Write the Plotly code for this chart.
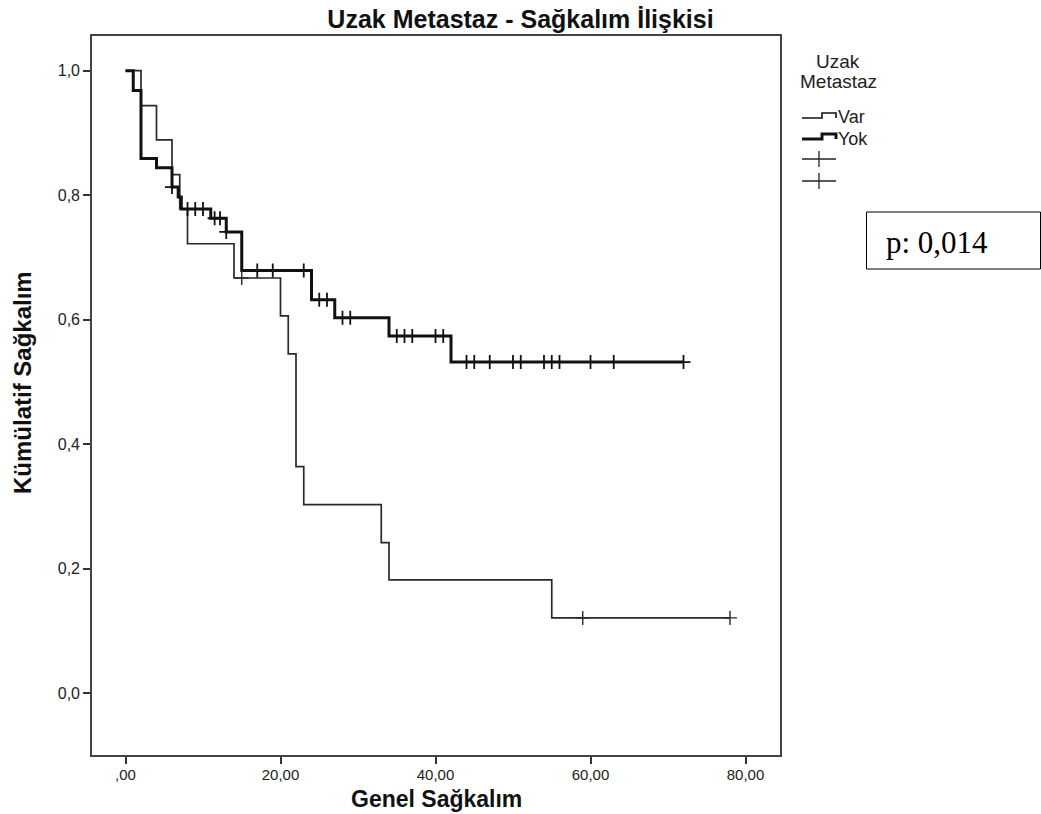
import plotly.graph_objects as go

# ---------------- data ----------------
var_times = [0, 2, 4, 6, 7, 8, 14, 20, 21, 22, 23, 33, 34, 55]
var_surv = [1.0, 0.944, 0.889, 0.833, 0.778, 0.722, 0.667, 0.606, 0.545, 0.364, 0.303, 0.242, 0.182, 0.121]
var_end = 78
var_cens_t = [15, 59, 78]
var_cens_s = [0.667, 0.121, 0.121]

yok_times = [0, 1, 2, 4, 6, 6.8, 7.2, 11, 13, 15, 24, 27, 34, 42]
yok_surv = [1.0, 0.968, 0.859, 0.844, 0.813, 0.797, 0.778, 0.763, 0.741, 0.679, 0.632, 0.603, 0.574, 0.532]
yok_end = 72
yok_cens_t = [6, 8, 9, 10, 11.5, 12.2, 13, 17, 19, 23, 25, 26, 28, 29,
              35, 36, 37, 40, 41, 44, 45, 47, 50, 51, 54, 55, 56, 60, 63, 72]
yok_cens_s = [0.813, 0.778, 0.778, 0.778, 0.763, 0.763, 0.741, 0.679, 0.679, 0.679,
              0.632, 0.632, 0.603, 0.603, 0.574, 0.574, 0.574, 0.574, 0.574,
              0.532, 0.532, 0.532, 0.532, 0.532, 0.532, 0.532, 0.532, 0.532, 0.532, 0.532]

x_tickvals = [0, 20, 40, 60, 80]
x_ticktext = [",00", "20,00", "40,00", "60,00", "80,00"]
y_tickvals = [0, 0.2, 0.4, 0.6, 0.8, 1.0]
y_ticktext = ["0,0", "0,2", "0,4", "0,6", "0,8", "1,0"]

title_text = "Uzak Metastaz - Sağkalım İlişkisi"
x_title = "Genel Sağkalım"
y_title = "Kümülatif Sağkalım"
legend_title = ["Uzak", "Metastaz"]
group_names = ["Var", "Yok"]
p_text = "p: 0,014"

# ---------------- layout geometry ----------------
W, H = 1041, 814
L, R, T, B = 92, 780, 36, 755
SANS = "Liberation Sans, Arial, sans-serif"

def px(x):
    return (x - L) / (R - L)

def py(y):
    return (B - y) / (B - T)

fig = go.Figure()

fig.add_trace(go.Scatter(
    x=var_times + [var_end], y=var_surv + [var_surv[-1]],
    mode="lines", line=dict(shape="hv", color="#2a2a2a", width=1.7),
    showlegend=False, hoverinfo="skip"))
fig.add_trace(go.Scatter(
    x=yok_times + [yok_end], y=yok_surv + [yok_surv[-1]],
    mode="lines", line=dict(shape="hv", color="#111111", width=3),
    showlegend=False, hoverinfo="skip"))
fig.add_trace(go.Scatter(
    x=var_cens_t, y=var_cens_s, mode="markers",
    marker=dict(symbol="cross-thin", size=10, line=dict(color="#2a2a2a", width=1.4)),
    showlegend=False, hoverinfo="skip"))
fig.add_trace(go.Scatter(
    x=yok_cens_t, y=yok_cens_s, mode="markers",
    marker=dict(symbol="cross-thin", size=10, line=dict(color="#111111", width=1.8)),
    showlegend=False, hoverinfo="skip"))

shapes = []
annotations = []

# manual legend (SPSS style step icons)
def step_icon(y_base, width):
    x0, x1, x2 = 802, 822, 836
    ytop = y_base - 5
    path = (f"M {px(x0)},{py(y_base)} L {px(x1)},{py(y_base)} L {px(x1)},{py(ytop)} "
            f"L {px(x2)},{py(ytop)} L {px(x2)},{py(y_base)}")
    shapes.append(dict(type="path", xref="paper", yref="paper", path=path,
                       line=dict(color="#111111", width=width)))

step_icon(118, 1.6)
step_icon(139, 3)
for cy in (159, 181):
    shapes.append(dict(type="line", xref="paper", yref="paper",
                       x0=px(802), x1=px(836), y0=py(cy), y1=py(cy),
                       line=dict(color="#222222", width=1.3)))
    shapes.append(dict(type="line", xref="paper", yref="paper",
                       x0=px(819), x1=px(819), y0=py(cy - 8), y1=py(cy + 8),
                       line=dict(color="#222222", width=1.3)))

annotations.append(dict(xref="paper", yref="paper", x=px(838), y=py(61),
                        text=legend_title[0], showarrow=False, xanchor="center", yanchor="middle",
                        font=dict(family=SANS, size=19, color="#222")))
annotations.append(dict(xref="paper", yref="paper", x=px(838), y=py(81),
                        text=legend_title[1], showarrow=False, xanchor="center", yanchor="middle",
                        font=dict(family=SANS, size=19, color="#222")))
for name, yc in zip(group_names, (117, 139)):
    annotations.append(dict(xref="paper", yref="paper", x=px(836), y=py(yc),
                            text=name, showarrow=False, xanchor="left", yanchor="middle",
                            font=dict(family=SANS, size=18, color="#222")))

# axis titles
annotations.append(dict(xref="paper", yref="paper", x=px(22), y=py(383),
                        text=f"<b>{y_title}</b>", textangle=-90, showarrow=False,
                        xanchor="center", yanchor="middle",
                        font=dict(family=SANS, size=24, color="#111")))
annotations.append(dict(xref="paper", yref="paper", x=0.5, y=py(799),
                        text=f"<b>{x_title}</b>", showarrow=False,
                        xanchor="center", yanchor="middle",
                        font=dict(family=SANS, size=23, color="#111")))

# p-value box
shapes.append(dict(type="rect", xref="paper", yref="paper",
                   x0=px(866.5), x1=px(1040.5), y0=py(269), y1=py(212),
                   line=dict(color="#000", width=1), fillcolor="white"))
annotations.append(dict(xref="paper", yref="paper", x=px(884), y=py(242),
                        text=p_text, showarrow=False, xanchor="left", yanchor="middle",
                        font=dict(family="Liberation Serif, Times New Roman, serif", size=31, color="#000")))

fig.update_layout(
    width=W, height=H,
    margin=dict(l=L, r=W - R, t=T, b=H - B, pad=0, autoexpand=False),
    paper_bgcolor="white", plot_bgcolor="white",
    title=dict(text=f"<b>{title_text}</b>", x=0.5, xref="container", xanchor="center",
               y=1 - 19 / H, yref="container", yanchor="middle",
               font=dict(family=SANS, size=25, color="#111")),
    shapes=shapes, annotations=annotations,
    showlegend=False,
)

xr0 = (L - 125.5) / 7.75
xr1 = (R - 125.5) / 7.75
yr1 = (693.2 - T) / 622.5
yr0 = (693.2 - B) / 622.5

fig.update_xaxes(range=[xr0, xr1], tickvals=x_tickvals, ticktext=x_ticktext,
                 automargin=False,
                 showgrid=False, zeroline=False, showline=True, mirror=True,
                 linecolor="#444", linewidth=1.6, ticks="outside", ticklen=7,
                 tickwidth=1.5, tickcolor="#333", ticklabelstandoff=-2,
                 tickfont=dict(family=SANS, size=15, color="#222"))
fig.update_yaxes(range=[yr0, yr1], tickvals=y_tickvals, ticktext=y_ticktext,
                 automargin=False,
                 showgrid=False, zeroline=False, showline=True, mirror=True,
                 linecolor="#444", linewidth=1.6, ticks="outside", ticklen=7,
                 tickwidth=1.5, tickcolor="#333",
                 tickfont=dict(family=SANS, size=16, color="#222"))

fig.write_html("out.html")
